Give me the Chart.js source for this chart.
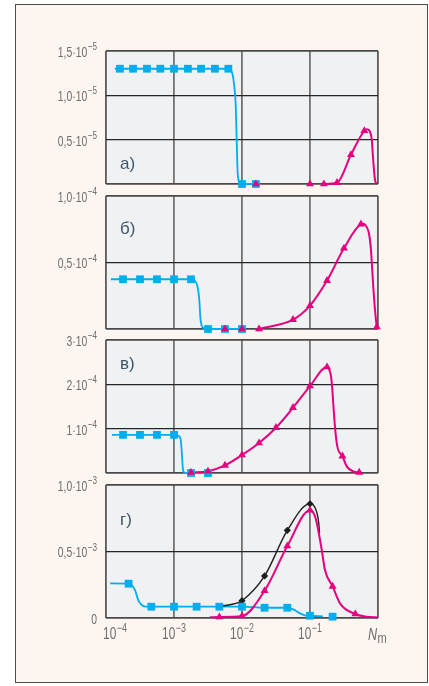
<!DOCTYPE html>
<html>
<head>
<meta charset="utf-8">
<script src="https://cdn.jsdelivr.net/npm/chart.js@4.4.1/dist/chart.umd.min.js"></script>
<style>
  html, body { margin: 0; padding: 0; background: #fff; }
  #frame { position: absolute; left: 15px; top: 4px; width: 411px; height: 677px;
           background: #fdf5f0; border: 1px solid #4d4d4d; }
  canvas.panel { position: absolute; left: 0; top: 0; }
</style>
</head>
<body>
<div id="frame"></div>
<canvas id="pa" class="panel" width="429" height="686"></canvas>
<canvas id="pb" class="panel" width="429" height="686"></canvas>
<canvas id="pc" class="panel" width="429" height="686"></canvas>
<canvas id="pd" class="panel" width="429" height="686"></canvas>
<script>
// shared log x axis
const xTicks = [1e-4, 1e-3, 1e-2, 1e-1, 1];
const xTickLabels = [['10', '−4'], ['10', '−3'], ['10', '−2'], ['10', '−1']];

// panel а)
const aYGrid = [0, 0.5e-5, 1.0e-5, 1.5e-5];
const aYLabels = [[1.5e-5, '1,5·10', '−5'], [1.0e-5, '1,0·10', '−5'], [0.5e-5, '0,5·10', '−5']];
const aBlueMarks = [[1.6e-4, 1.3e-5], [2.5e-4, 1.3e-5], [4e-4, 1.3e-5], [6.3e-4, 1.3e-5], [1e-3, 1.3e-5],
  [1.6e-3, 1.3e-5], [2.5e-3, 1.3e-5], [4e-3, 1.3e-5], [6.3e-3, 1.3e-5], [1e-2, 0], [1.6e-2, 0]];
const aBlueLine = [[1.35e-4, 1.3e-5], [6.3e-3, 1.3e-5], [7.05e-3, 1.267e-5], [7.6e-3, 1.14e-5], [8.1e-3, 0.87e-5],
  [8.35e-3, 0.5e-5], [8.65e-3, 0.12e-5], [9.3e-3, 0.01e-5], [1e-2, 0], [1.8e-2, 0]];
const aPinkMarks = [[1.6e-2, 0], [0.1, 0], [0.16, 0], [0.25, 0.015e-5], [0.4, 0.33e-5], [0.63, 0.6e-5]];
const aPinkLine = [[0.16, 0], [0.25, 0.015e-5], [0.4, 0.33e-5], [0.63, 0.6e-5], [0.70, 0.617e-5], [0.76, 0.59e-5],
  [0.81, 0.5e-5], [0.836, 0.346e-5], [0.865, 0.195e-5], [0.904, 0.045e-5], [0.96, 0]];

// panel б)
const bYGrid = [0, 0.5e-4, 1e-4];
const bYLabels = [[1e-4, '1,0·10', '−4'], [0.5e-4, '0,5·10', '−4']];
const bBlueMarks = [[1.78e-4, 0.374e-4], [3.16e-4, 0.374e-4], [5.62e-4, 0.374e-4], [1e-3, 0.374e-4],
  [1.78e-3, 0.374e-4], [3.16e-3, 0], [5.62e-3, 0], [1e-2, 0]];
const bBlueLine = [[1.18e-4, 0.374e-4], [1.78e-3, 0.374e-4], [1.92e-3, 0.369e-4], [2.2e-3, 0.326e-4],
  [2.36e-3, 0.213e-4], [2.44e-3, 0.087e-4], [2.55e-3, 0.025e-4], [2.76e-3, 0.005e-4], [3.16e-3, 0], [1e-2, 0]];
const bPinkMarks = [[5.62e-3, 0], [1e-2, 0], [1.78e-2, 0], [5.62e-2, 0.07e-4], [0.1, 0.176e-4], [0.178, 0.364e-4],
  [0.316, 0.607e-4], [0.562, 0.788e-4], [0.96, 0.015e-4]];
const bPinkLine = [[1.78e-2, 0], [5.62e-2, 0.07e-4], [0.1, 0.176e-4], [0.178, 0.364e-4], [0.316, 0.607e-4],
  [0.562, 0.788e-4], [0.608, 0.791e-4], [0.683, 0.766e-4], [0.738, 0.716e-4], [0.782, 0.615e-4],
  [0.824, 0.439e-4], [0.873, 0.238e-4], [0.925, 0.087e-4], [0.96, 0.015e-4]];

// panel в)
const cYGrid = [0, 1e-4, 2e-4, 3e-4];
const cYLabels = [[3e-4, '3·10', '−4'], [2e-4, '2·10', '−4'], [1e-4, '1·10', '−4']];
const cBlueMarks = [[1.78e-4, 0.86e-4], [3.16e-4, 0.86e-4], [5.62e-4, 0.86e-4], [1e-3, 0.86e-4], [1.78e-3, 0], [3.16e-3, 0]];
const cBlueLine = [[1.22e-4, 0.86e-4], [1e-3, 0.86e-4], [1.156e-3, 0.84e-4], [1.256e-3, 0.75e-4], [1.313e-3, 0.374e-4],
  [1.355e-3, 0.074e-4], [1.45e-3, 0], [3.16e-3, 0]];
const cPinkMarks = [[1.78e-3, 0.01e-4], [3.16e-3, 0.04e-4], [5.62e-3, 0.17e-4], [1e-2, 0.406e-4], [1.78e-2, 0.677e-4],
  [3.16e-2, 1.022e-4], [5.62e-2, 1.473e-4], [0.1, 1.962e-4], [0.178, 2.39e-4], [0.3, 0.38e-4], [0.53, 0.014e-4]];
const cPinkLine = [[1.78e-3, 0.01e-4], [3.16e-3, 0.04e-4], [5.62e-3, 0.17e-4], [1e-2, 0.406e-4], [1.78e-2, 0.677e-4],
  [3.16e-2, 1.022e-4], [5.62e-2, 1.473e-4], [0.1, 1.962e-4], [0.178, 2.39e-4], [0.192, 2.33e-4], [0.204, 2.18e-4],
  [0.213, 1.88e-4], [0.223, 1.43e-4], [0.235, 0.98e-4], [0.252, 0.6e-4], [0.3, 0.38e-4], [0.347, 0.15e-4],
  [0.434, 0.036e-4], [0.53, 0.014e-4]];

// panel г)
const dYGrid = [0, 0.5e-3, 1e-3];
const dYLabels = [[1e-3, '1,0·10', '−3'], [0.5e-3, '0,5·10', '−3'], [0, '0', '']];
const dBlueMarks = [[2.15e-4, 0.258e-3], [4.64e-4, 0.085e-3], [1e-3, 0.085e-3], [2.15e-3, 0.085e-3], [4.64e-3, 0.085e-3],
  [1e-2, 0.085e-3], [2.15e-2, 0.077e-3], [4.64e-2, 0.077e-3], [0.1, 0.017e-3], [0.215, 0.01e-3]];
const dBlueLine = [[1.15e-4, 0.26e-3], [2.15e-4, 0.258e-3], [2.67e-4, 0.21e-3], [2.98e-4, 0.135e-3], [3.35e-4, 0.098e-3],
  [3.97e-4, 0.085e-3], [1e-2, 0.085e-3], [2.15e-2, 0.077e-3], [4.64e-2, 0.077e-3], [5.67e-2, 0.065e-3],
  [7.13e-2, 0.035e-3], [8.43e-2, 0.02e-3], [0.1, 0.017e-3], [0.155, 0.012e-3]];
const dBlackMarks = [[1e-2, 0.13e-3], [2.15e-2, 0.316e-3], [4.64e-2, 0.659e-3], [0.1, 0.859e-3]];
const dBlackLine = [[5e-3, 0.09e-3], [7.45e-3, 0.105e-3], [1e-2, 0.13e-3], [2.15e-2, 0.316e-3], [4.64e-2, 0.659e-3],
  [0.1, 0.859e-3], [0.112, 0.85e-3], [0.125, 0.8e-3], [0.134, 0.72e-3], [0.138, 0.64e-3]];
const dPinkMarks = [[4.64e-3, 0.0075e-3], [1e-2, 0.015e-3], [2.15e-2, 0.205e-3], [4.64e-2, 0.541e-3], [0.1, 0.81e-3],
  [0.215, 0.238e-3], [0.464, 0.03e-3]];
const dPinkLine = [[3.38e-3, 0.005e-3], [4.64e-3, 0.0075e-3], [1e-2, 0.015e-3], [2.15e-2, 0.205e-3], [4.64e-2, 0.541e-3],
  [0.1, 0.81e-3], [0.119, 0.762e-3], [0.132, 0.662e-3], [0.149, 0.511e-3], [0.166, 0.361e-3], [0.215, 0.238e-3],
  [0.276, 0.11e-3], [0.464, 0.03e-3], [0.683, 0.01e-3], [1, 0.004e-3]];

const BLUE = '#00aeef';
const PINK = '#e6007e';
const BLACK = '#1e1e1e';
const TICK_FONT = "'Liberation Sans', Arial, sans-serif";
const TICK_COLOR = '#6e6e6e';
const NARROW = 0.74;   // horizontal squeeze of the condensed tick font

const pts = arr => arr.map(p => ({ x: p[0], y: p[1] }));

function lineSet(arr, color, width, order) {
  return { data: pts(arr), showLine: true, borderColor: color, borderWidth: width, pointRadius: 0,
    cubicInterpolationMode: 'monotone', clip: false, order: order };
}
function markSet(arr, color, style, radius, order) {
  return { data: pts(arr), showLine: false, pointStyle: style, pointRadius: radius,
    pointBackgroundColor: color, pointBorderWidth: 0, clip: false, order: order };
}

// narrow text, left edge at x
function narrowText(ctx, text, font, x, y) {
  ctx.save();
  ctx.font = font;
  ctx.translate(x, y);
  ctx.scale(NARROW, 1);
  ctx.fillText(text, 0, 0);
  ctx.restore();
}
function narrowWidth(ctx, text, font) {
  ctx.font = font;
  return ctx.measureText(text).width * NARROW;
}

// "10" with a raised exponent
function powText(ctx, base, exp, x, y, align, size, expSize) {
  const fb = size + 'px ' + TICK_FONT, fe = expSize + 'px ' + TICK_FONT;
  const wb = narrowWidth(ctx, base, fb);
  const we = exp ? narrowWidth(ctx, exp, fe) + 0.5 : 0;
  const left = align === 'right' ? x - wb - we : x - (wb + we) / 2;
  ctx.textAlign = 'left';
  ctx.textBaseline = 'middle';
  narrowText(ctx, base, fb, left, y);
  if (exp) narrowText(ctx, exp, fe, left + wb + 0.5, y - size * 0.42);
}

const panelDecor = {
  id: 'panelDecor',
  beforeDraw(chart) {
    const a = chart.chartArea, ctx = chart.ctx;
    ctx.save();
    ctx.fillStyle = '#eff1f3';
    ctx.fillRect(a.left, a.top, a.right - a.left, a.bottom - a.top);
    ctx.restore();
  },
  afterDraw(chart, args, opts) {
    const ctx = chart.ctx, a = chart.chartArea;
    ctx.save();
    ctx.fillStyle = TICK_COLOR;
    opts.yLabels.forEach(l => {
      powText(ctx, l[1], l[2], 97, chart.scales.y.getPixelForValue(l[0]) + 2, 'right', 14, 11);
    });
    if (opts.showX) {
      xTickLabels.forEach((l, i) => {
        const gx = chart.scales.x.getPixelForValue(xTicks[i]) + (i === 0 ? 9 : 0);
        powText(ctx, l[0], l[1], gx, a.bottom + 17, 'center', 16, 12);
      });
      ctx.textAlign = 'left';
      ctx.textBaseline = 'middle';
      const fN = 'italic 17px ' + TICK_FONT, fm = '15px ' + TICK_FONT;
      narrowText(ctx, 'N', fN, 368, a.bottom + 17);
      narrowText(ctx, 'm', fm, 368 + narrowWidth(ctx, 'N', fN) + 0.5, a.bottom + 21);
    }
    ctx.fillStyle = '#3e5769';
    ctx.font = '17px "Liberation Sans", Arial, sans-serif';
    ctx.textAlign = 'left';
    ctx.textBaseline = 'middle';
    ctx.fillText(opts.tag, 120, a.top + opts.tagDy);
    ctx.restore();
  }
};

function makePanel(id, top, yGrid, yLabels, datasets, tag, tagDy, showX) {
  const yMin = yGrid[0], yMax = yGrid[yGrid.length - 1];
  new Chart(document.getElementById(id), {
    type: 'scatter',
    data: { datasets: datasets },
    options: {
      responsive: false,
      animation: false,
      events: [],
      layout: { autoPadding: false, padding: { left: 106, right: 51, top: top, bottom: 686 - top - 133 } },
      plugins: {
        legend: { display: false },
        tooltip: { enabled: false },
        panelDecor: { yLabels: yLabels, tag: tag, tagDy: tagDy, showX: showX }
      },
      scales: {
        x: {
          type: 'logarithmic', min: xTicks[0], max: xTicks[xTicks.length - 1],
          afterBuildTicks: s => { s.ticks = xTicks.map(v => ({ value: v })); },
          afterFit: s => { s.height = 0; },
          ticks: { display: false },
          border: { display: false },
          grid: {
            drawTicks: false,
            color: c => (c.index === 0 || c.index === xTicks.length - 1) ? '#5a5a5a' : '#727272',
            lineWidth: 1.8
          }
        },
        y: {
          type: 'linear', min: yMin, max: yMax,
          afterBuildTicks: s => { s.ticks = yGrid.map(v => ({ value: v })); },
          afterFit: s => { s.width = 0; },
          ticks: { display: false },
          border: { display: false },
          grid: {
            drawTicks: false,
            color: c => (c.index === 0 || c.index === yGrid.length - 1) ? '#4a4a4a' : '#262626',
            lineWidth: c => (c.index === 0 || c.index === yGrid.length - 1) ? 1.8 : 1.3
          }
        }
      }
    },
    plugins: [panelDecor]
  });
}

makePanel('pa', 51, aYGrid, aYLabels, [
  markSet(aPinkMarks, PINK, 'triangle', 4.6, 0),
  markSet(aBlueMarks, BLUE, 'rect', 5.5, 1),
  lineSet(aPinkLine, PINK, 2, 3),
  lineSet(aBlueLine, BLUE, 1.8, 5)
], 'а)', 113, false);

makePanel('pb', 196, bYGrid, bYLabels, [
  markSet(bPinkMarks, PINK, 'triangle', 4.6, 0),
  markSet(bBlueMarks, BLUE, 'rect', 5.5, 1),
  lineSet(bPinkLine, PINK, 2, 3),
  lineSet(bBlueLine, BLUE, 1.8, 5)
], 'б)', 33, false);

makePanel('pc', 340, cYGrid, cYLabels, [
  markSet(cPinkMarks, PINK, 'triangle', 4.6, 0),
  markSet(cBlueMarks, BLUE, 'rect', 5.5, 1),
  lineSet(cPinkLine, PINK, 2, 3),
  lineSet(cBlueLine, BLUE, 1.8, 5)
], 'в)', 24, false);

makePanel('pd', 485, dYGrid, dYLabels, [
  markSet(dPinkMarks, PINK, 'triangle', 4.6, 0),
  markSet(dBlueMarks, BLUE, 'rect', 5.5, 1),
  markSet(dBlackMarks, BLACK, 'rectRot', 3.6, 2),
  lineSet(dPinkLine, PINK, 2, 3),
  lineSet(dBlackLine, BLACK, 1.4, 4),
  lineSet(dBlueLine, BLUE, 1.8, 5)
], 'г)', 35, true);
</script>
</body>
</html>
